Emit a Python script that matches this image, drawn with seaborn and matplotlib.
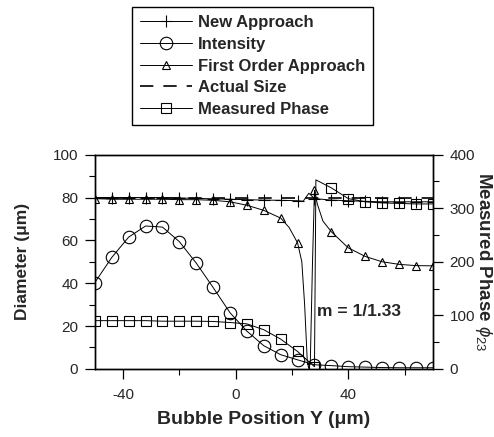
import numpy as np
import matplotlib
matplotlib.use("Agg")
import matplotlib.pyplot as plt
from matplotlib.ticker import MultipleLocator
import seaborn as sns

# positions des marqueurs (pas de 6 um)
pos_y = [-50, -44, -38, -32, -26, -20, -14, -8, -2, 4, 10, 16, 22, 28, 34, 40, 46, 52, 58, 64, 70]

# Intensity (axe gauche)
intensity = [40.3, 52, 61.5, 66.7, 66.2, 59.4, 49.4, 38, 26.2, 17.6, 10.8, 6.6, 4.2, 1.9,
             1.5, 1.0, 0.8, 0.6, 0.5, 0.5, 0.5]

# New Approach (axe gauche) - trace avec un point en plus pour la bosse
new_x = [-50, -44, -38, -32, -26, -20, -14, -8, -2, 4, 10, 16, 22, 24, 26, 28, 34, 40, 46, 52, 58, 64, 70]
new_d = [80, 80, 80, 80, 80, 79.8, 79.6, 79.4, 79.2, 79, 78.8, 78.7, 78.5, 78.3, 82, 79.5,
         78.8, 78.5, 78.2, 78, 78, 78, 78]

# First Order Approach (axe gauche) - courbe avec le creux vers 25 um
fo_x = [-50, -44, -38, -32, -26, -20, -14, -8, -2, 4, 10, 16, 19, 22, 23.5, 24.5, 25.5, 26.5,
        27.3, 28, 29, 31, 34, 40, 46, 52, 58, 64, 70]
fo_d = [79.5, 79.2, 79.2, 79.2, 79.2, 79, 79, 78.7, 78, 76.4, 74, 70.4, 66, 58.8, 50, 30, 2, 2,
        50, 83.4, 77, 69, 64, 56.5, 52.5, 50, 48.8, 48.2, 48.1]

# Actual Size
actual_x = [-50, 70]
actual_d = [80, 80]

# Measured Phase (axe droit)
ph_x = [-50, -44, -38, -32, -26, -20, -14, -8, -2, 4, 10, 16, 22, 28, 28.5, 34, 40, 46, 52, 58, 64, 70]
ph_v = [90, 90, 90, 90, 89, 89, 89, 88.5, 86.5, 84, 73, 55.5, 32.4, 4, 353, 338, 318, 312, 310,
        309, 308, 308]

sns.set_style("ticks")
plt.rcParams["font.family"] = ["Liberation Sans", "DejaVu Sans"]
plt.rcParams["mathtext.fontset"] = "custom"
plt.rcParams["mathtext.rm"] = "Liberation Sans"
plt.rcParams["mathtext.it"] = "Liberation Sans:italic"
plt.rcParams["axes.unicode_minus"] = False

fig = plt.figure(figsize=(4.94, 4.37), dpi=100)
ax = fig.add_axes([0.192, 0.156, 0.684, 0.49])
ax2 = ax.twinx()

lw = 0.7
mk = dict(markerfacecolor="none", markeredgecolor="black", markeredgewidth=0.8)

def every(xs):
    return [i for i, v in enumerate(xs) if v in pos_y]

sns.lineplot(x=new_x, y=new_d, ax=ax, color="black", lw=lw, marker="+", markersize=8,
             markevery=every(new_x), sort=False, estimator=None, label="New Approach", **mk)
sns.lineplot(x=pos_y, y=intensity, ax=ax, color="black", lw=lw, marker="o", markersize=9,
             sort=False, estimator=None, label="Intensity", **mk)
sns.lineplot(x=fo_x, y=fo_d, ax=ax, color="black", lw=lw, marker="^", markersize=6,
             markevery=every(fo_x), sort=False, estimator=None, label="First Order Approach", **mk)
sns.lineplot(x=actual_x, y=actual_d, ax=ax, color="black", lw=1.2, dashes=(8, 6),
             sort=False, estimator=None, label="Actual Size")
sns.lineplot(x=ph_x, y=ph_v, ax=ax2, color="black", lw=lw, marker="s", markersize=7,
             markevery=every(ph_x), sort=False, estimator=None, label="Measured Phase", **mk)

ax.set_xlim(-50, 70)
ax.set_ylim(0, 100)
ax2.set_ylim(0, 400)
ax.xaxis.set_major_locator(MultipleLocator(40))
ax.xaxis.set_minor_locator(MultipleLocator(20))
ax.yaxis.set_major_locator(MultipleLocator(20))
ax.yaxis.set_minor_locator(MultipleLocator(10))
ax2.yaxis.set_major_locator(MultipleLocator(100))
ax2.yaxis.set_minor_locator(MultipleLocator(50))

for a in (ax, ax2):
    a.tick_params(which="major", length=7, width=0.9, labelsize=11, color="black", pad=5)
    a.tick_params(which="minor", length=4, width=0.8, color="black")
    for s in a.spines.values():
        s.set_linewidth(1.0)
        s.set_color("black")
ax.tick_params(axis="x", which="major", pad=7)

ax.set_xlabel("Bubble Position Y (\u03bcm)", fontsize=14, fontweight="bold", labelpad=6)
ax.set_ylabel("Diameter (\u03bcm)", fontsize=12.5, fontweight="bold", labelpad=16)
ax2.set_ylabel(r"Measured Phase $\phi_{23}$", fontsize=13.5, fontweight="bold",
               rotation=-90, labelpad=14)

ax.text(29, 26.6, "m = 1/1.33", fontsize=12.5, fontweight="bold", va="center", ha="left")

h1, l1 = ax.get_legend_handles_labels()
h2, l2 = ax2.get_legend_handles_labels()
ax.get_legend().remove()
ax2.get_legend().remove()
leg = fig.legend(h1 + h2, l1 + l2, loc="upper left", bbox_to_anchor=(132 / 494, 1 - 7 / 437),
                 frameon=True, fancybox=False, edgecolor="black", framealpha=1,
                 prop={"weight": "bold", "size": 12}, handlelength=3.1,
                 handletextpad=0.35, labelspacing=0.4, borderpad=0.5, borderaxespad=0)
leg.get_frame().set_linewidth(1.0)

fig.savefig("out.png", dpi=100)
